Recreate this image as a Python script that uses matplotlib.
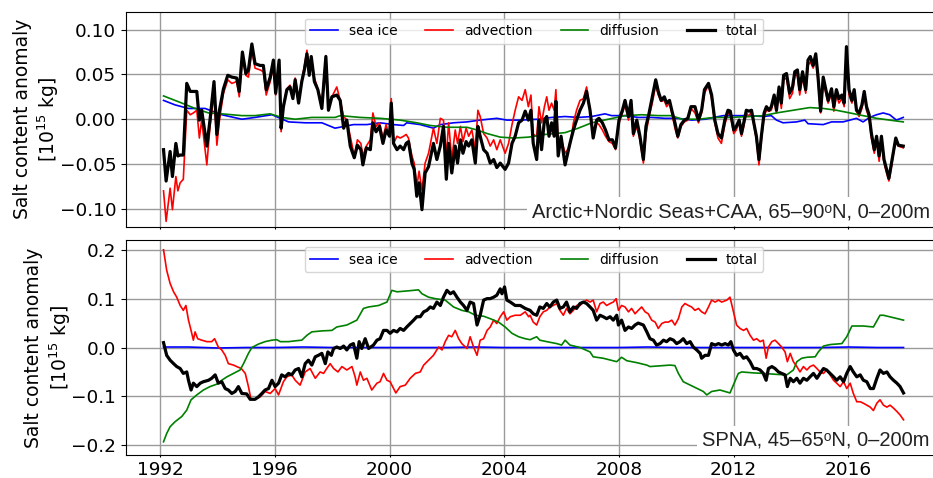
import matplotlib
matplotlib.use("Agg")
import matplotlib.pyplot as plt

# ---- upper panel: Arctic + Nordic Seas + CAA (values in 1e15 kg) ----
t_top = [
    1992.12, 1992.21, 1992.35, 1992.43, 1992.55, 1992.62, 1992.70, 1992.81, 1992.93, 1993.05,
    1993.16, 1993.28, 1993.37, 1993.45, 1993.63, 1993.74, 1993.88, 1993.98, 1994.07, 1994.21,
    1994.36, 1994.50, 1994.67, 1994.76, 1994.87, 1994.99, 1995.08, 1995.20, 1995.31, 1995.49,
    1995.60, 1995.70, 1995.84, 1995.95, 1996.03, 1996.15, 1996.22, 1996.30, 1996.42, 1996.53,
    1996.63, 1996.71, 1996.83, 1996.94, 1997.03, 1997.12, 1997.20, 1997.27, 1997.38, 1997.50,
    1997.64, 1997.78, 1997.87, 1997.99, 1998.16,
    1998.28, 1998.40, 1998.51, 1998.63, 1998.77, 1998.88, 1999.00, 1999.07, 1999.19, 1999.33,
    1999.42, 1999.53, 1999.65, 1999.77, 1999.88, 2000.00, 2000.06, 2000.14, 2000.26, 2000.37,
    2000.49, 2000.58, 2000.66, 2000.78, 2000.86, 2000.95, 2001.03, 2001.13, 2001.24, 2001.36,
    2001.44, 2001.53, 2001.65, 2001.77, 2001.88, 2001.98, 2002.06, 2002.17, 2002.29, 2002.37,
    2002.47, 2002.56, 2002.67, 2002.76, 2002.87, 2002.99, 2003.08, 2003.16, 2003.28, 2003.40,
    2003.51, 2003.63, 2003.74, 2003.86, 2004.03, 2004.15, 2004.27, 2004.38, 2004.50, 2004.62,
    2004.73,
    2004.84, 2004.93, 2005.01, 2005.13, 2005.21, 2005.30, 2005.40, 2005.48, 2005.56, 2005.65,
    2005.74, 2005.80, 2005.88, 2005.98, 2006.12, 2006.21, 2006.29, 2006.41, 2006.52, 2006.64,
    2006.76, 2006.87, 2006.99, 2007.10, 2007.22, 2007.30, 2007.42, 2007.53, 2007.65, 2007.77,
    2007.88, 2008.00, 2008.12, 2008.21, 2008.33, 2008.42, 2008.50, 2008.62, 2008.73, 2008.85,
    2008.94, 2009.05, 2009.16, 2009.28, 2009.37, 2009.47, 2009.58, 2009.66, 2009.76, 2009.84,
    2009.95, 2010.05, 2010.16, 2010.28, 2010.40, 2010.51, 2010.65, 2010.77, 2010.88, 2010.98,
    2011.12, 2011.23,
    2011.34, 2011.45, 2011.57, 2011.69, 2011.80, 2011.88, 2012.00, 2012.09, 2012.19, 2012.27,
    2012.35, 2012.44, 2012.53, 2012.62, 2012.70, 2012.79, 2012.88, 2012.97, 2013.06, 2013.14,
    2013.23, 2013.31, 2013.41, 2013.49, 2013.58, 2013.66, 2013.74, 2013.84, 2013.95, 2014.05,
    2014.13, 2014.22, 2014.30, 2014.40, 2014.51, 2014.59, 2014.67, 2014.77, 2014.86, 2014.94,
    2015.03, 2015.12, 2015.21, 2015.29, 2015.41, 2015.49, 2015.58, 2015.67, 2015.77, 2015.85,
    2015.93, 2016.02, 2016.12, 2016.20, 2016.28, 2016.37, 2016.47, 2016.55, 2016.63, 2016.72,
    2016.80, 2016.90, 2016.98, 2017.07, 2017.15, 2017.24, 2017.33, 2017.41, 2017.50, 2017.58,
    2017.65, 2017.74, 2017.91,
]
total_top = [
    -0.034, -0.069, -0.036, -0.064, -0.027, -0.041, -0.040, -0.040, 0.040, 0.031,
    0.031, 0.031, -0.001, 0.010, -0.030, -0.001, 0.042, -0.017, 0.010, 0.034,
    0.049, 0.047, 0.046, 0.031, 0.075, 0.051, 0.055, 0.084, 0.062, 0.060,
    0.060, 0.033, 0.047, 0.066, 0.029, 0.066, -0.010, 0.014, 0.033, 0.036,
    0.023, 0.044, 0.018, 0.042, 0.055, 0.073, 0.049, 0.070, 0.042, 0.033,
    0.012, 0.070, 0.010, 0.025, 0.027,
    0.021, -0.010, -0.001, -0.030, -0.043, -0.029, -0.034, -0.051, -0.032, -0.034,
    -0.004, -0.014, -0.008, -0.027, -0.012, -0.019, 0.018, -0.027, -0.034, -0.030,
    -0.034, -0.027, -0.025, -0.049, -0.056, -0.086, -0.071, -0.101, -0.060, -0.053,
    -0.041, -0.027, -0.045, -0.030, -0.008, -0.067, -0.027, -0.060, -0.030, -0.049,
    -0.023, -0.038, -0.025, -0.030, -0.023, -0.049, -0.008, -0.019, -0.034, -0.038,
    -0.049, -0.045, -0.054, -0.049, -0.056, -0.049, -0.027, -0.019, -0.004, -0.001,
    0.009,
    -0.001, 0.010, -0.027, -0.045, -0.001, -0.034, -0.001, 0.003, -0.019, -0.004,
    -0.019, 0.020, -0.041, -0.019, -0.051, -0.038, -0.027, -0.012, -0.001, 0.010,
    0.018, 0.031, 0.010, -0.021, -0.001, 0.001, -0.004, -0.012, -0.023, -0.023,
    -0.032, -0.001, 0.010, 0.021, 0.003, 0.021, -0.016, -0.001, -0.019, -0.045,
    -0.008, 0.007, 0.025, 0.044, 0.031, 0.021, 0.025, 0.018, 0.021, 0.010,
    -0.004, -0.019, -0.006, -0.001, 0.001, 0.014, 0.014, -0.001, 0.010, 0.033,
    0.040, 0.027,
    -0.001, -0.016, -0.021, -0.001, 0.010, 0.009, -0.012, -0.008, -0.001, -0.016,
    -0.004, 0.010, 0.009, 0.010, -0.004, -0.019, -0.045, -0.017, 0.007, 0.014,
    0.010, 0.014, 0.027, 0.010, 0.036, 0.018, 0.049, 0.051, 0.029, 0.036,
    0.053, 0.055, 0.033, 0.053, 0.033, 0.066, 0.070, 0.060, 0.073, 0.047,
    0.009, 0.047, 0.033, 0.021, 0.034, 0.014, 0.033, 0.023, 0.027, 0.018,
    0.081, 0.033, 0.021, 0.033, 0.010, 0.007, 0.016, 0.031, 0.014, 0.005,
    -0.016, -0.034, -0.019, -0.041, -0.019, -0.045, -0.056, -0.066, -0.049, -0.034,
    -0.021, -0.029, -0.030,
]
advection_top = [
    -0.080, -0.114, -0.077, -0.101, -0.064, -0.080, -0.071, -0.067, 0.010, 0.005,
    0.007, 0.010, -0.021, -0.001, -0.051, -0.008, 0.029, -0.029, -0.001, 0.029,
    0.044, 0.040, 0.042, 0.025, 0.070, 0.049, 0.047, 0.077, 0.057, 0.055,
    0.053, 0.027, 0.042, 0.059, 0.027, 0.060, -0.014, 0.016, 0.034, 0.038,
    0.025, 0.046, 0.021, 0.044, 0.059, 0.077, 0.053, 0.068, 0.046, 0.034,
    0.018, 0.071, 0.014, 0.025, 0.036,
    0.021, 0.003, -0.001, -0.019, -0.041, -0.023, -0.027, -0.041, -0.030, -0.023,
    0.007, -0.008, -0.004, -0.021, -0.006, -0.019, 0.023, -0.027, -0.019, -0.021,
    -0.019, -0.017, -0.021, -0.041, -0.049, -0.075, -0.058, -0.079, -0.049, -0.038,
    -0.025, -0.010, -0.027, 0.001, -0.001, -0.041, -0.004, -0.045, -0.012, -0.027,
    -0.008, -0.025, -0.010, -0.019, -0.012, -0.034, 0.010, 0.003, -0.016, -0.021,
    -0.030, -0.023, -0.034, -0.023, -0.038, -0.027, -0.006, 0.010, 0.025, 0.021,
    0.033,
    0.014, 0.027, -0.017, -0.019, 0.014, -0.004, 0.014, 0.025, 0.010, 0.018,
    0.010, 0.033, -0.030, -0.021, -0.038, -0.034, -0.030, -0.004, 0.010, 0.021,
    0.023, 0.036, 0.010, -0.019, -0.004, -0.006, -0.012, -0.019, -0.025, -0.027,
    -0.034, -0.004, 0.007, 0.016, -0.001, 0.014, -0.019, -0.008, -0.023, -0.049,
    -0.016, 0.003, 0.018, 0.038, 0.027, 0.020, 0.021, 0.014, 0.018, 0.007,
    -0.010, -0.021, -0.008, -0.003, -0.001, 0.012, 0.007, -0.004, 0.007, 0.029,
    0.038, 0.023,
    -0.004, -0.021, -0.027, -0.006, 0.007, 0.005, -0.016, -0.012, -0.003, -0.019,
    -0.008, 0.007, 0.003, 0.009, -0.006, -0.023, -0.051, -0.021, 0.003, 0.010,
    0.009, 0.010, 0.023, 0.007, 0.031, 0.012, 0.044, 0.046, 0.023, 0.029,
    0.049, 0.049, 0.027, 0.047, 0.029, 0.060, 0.064, 0.057, 0.070, 0.042,
    0.007, 0.042, 0.029, 0.018, 0.029, 0.009, 0.027, 0.018, 0.023, 0.014,
    0.077, 0.027, 0.018, 0.029, 0.009, 0.003, 0.012, 0.027, 0.010, 0.001,
    -0.021, -0.038, -0.023, -0.047, -0.023, -0.049, -0.060, -0.069, -0.053, -0.036,
    -0.025, -0.030, -0.032,
]
t_ice_top = [1992.12, 1992.52, 1992.99, 1993.57, 1994.15, 1994.85, 1995.31, 1995.90, 1996.48,
             1997.06, 1997.64, 1998.10, 1998.74, 1999.21, 1999.67, 2000.14, 2000.49, 2000.60,
             2001.07, 2001.53, 2001.77, 2002.23, 2002.70, 2003.16, 2003.74, 2004.09, 2004.56,
             2005.19, 2005.65, 2006.12, 2006.58, 2007.05, 2007.51, 2007.74, 2008.21, 2008.67,
             2009.14, 2009.60, 2010.07, 2010.53, 2011.00, 2011.63, 2012.09, 2012.56, 2013.02,
             2013.31, 2013.49, 2013.72, 2014.19, 2014.48, 2014.59, 2015.12, 2015.41, 2015.81,
             2016.05, 2016.28, 2016.51, 2016.74, 2016.98, 2017.21, 2017.44, 2017.67, 2017.91]
seaice_top = [0.021, 0.016, 0.012, 0.012, 0.005, 0.000, 0.002, 0.005, -0.003,
              -0.004, -0.004, -0.010, -0.006, -0.006, -0.004, -0.006, -0.007, -0.004,
              -0.006, -0.010, -0.006, -0.004, -0.003, -0.001, 0.001, -0.001, -0.001,
              0.000, 0.002, 0.003, 0.002, 0.003, 0.006, 0.004, 0.004, 0.002,
              0.002, 0.001, 0.001, -0.001, 0.000, 0.004, 0.004, 0.004, 0.003,
              0.004, -0.001, -0.004, -0.003, -0.001, -0.005, -0.006, -0.003, -0.003,
              -0.001, 0.001, -0.003, 0.002, 0.005, 0.007, 0.005, -0.001, 0.002]
t_diff_top = [1992.12, 1992.76, 1993.22, 1993.69, 1994.15, 1994.85, 1995.31, 1995.84, 1996.24,
              1996.71, 1997.29, 1998.10, 1998.28, 1998.98, 1999.67, 2000.37, 2000.95, 2001.42,
              2002.00, 2002.70, 2003.05, 2003.40, 2003.86, 2004.33, 2004.85, 2005.42, 2006.12,
              2006.58, 2007.05, 2007.63, 2008.21, 2008.79, 2009.37, 2009.84, 2010.19, 2010.77,
              2011.33, 2011.86, 2012.56, 2013.02, 2013.49, 2014.07, 2014.65, 2015.12, 2015.58,
              2016.05, 2016.51, 2016.98, 2017.44, 2017.91]
diffusion_top = [0.026, 0.018, 0.012, 0.007, 0.006, 0.004, 0.004, 0.006, 0.002,
                 0.000, 0.002, 0.002, 0.004, 0.002, 0.001, -0.001, -0.004, -0.007,
                 -0.009, -0.009, -0.012, -0.016, -0.020, -0.021, -0.020, -0.017, -0.015,
                 -0.010, -0.004, 0.000, 0.004, 0.005, 0.004, 0.004, 0.000, 0.000,
                 0.002, 0.002, 0.003, 0.004, 0.007, 0.010, 0.013, 0.012, 0.010,
                 0.007, 0.004, 0.001, -0.001, -0.003]

# ---- lower panel: SPNA ----
t_tot_bot = [
    1992.12, 1992.23, 1992.35, 1992.47, 1992.58, 1992.70, 1992.81, 1992.93, 1992.99, 1993.08,
    1993.16, 1993.28, 1993.40, 1993.51, 1993.69, 1993.80, 1993.92, 1994.03, 1994.15, 1994.27,
    1994.38, 1994.50, 1994.62, 1994.73, 1994.85, 1995.02, 1995.14, 1995.31, 1995.43, 1995.55,
    1995.66, 1995.78, 1995.90, 1996.01, 1996.13, 1996.24, 1996.36, 1996.48, 1996.59, 1996.71,
    1996.83, 1996.94, 1997.06, 1997.17, 1997.29, 1997.41, 1997.52, 1997.64, 1997.76, 1997.85,
    1997.97, 1998.05, 1998.16, 1998.28, 1998.40, 1998.51, 1998.63, 1998.74, 1998.86, 1998.94,
    1999.03, 1999.15, 1999.27, 1999.44, 1999.56, 1999.67, 1999.79, 1999.91, 2000.02, 2000.14,
    2000.26, 2000.37, 2000.49, 2000.60, 2000.72, 2000.84, 2000.95, 2001.07, 2001.19, 2001.30,
    2001.42, 2001.53, 2001.65, 2001.77, 2001.88, 2002.00, 2002.12, 2002.23, 2002.35, 2002.47,
    2002.58, 2002.70, 2002.81, 2002.93, 2003.05, 2003.16, 2003.28, 2003.40, 2003.51, 2003.63,
    2003.74, 2003.86, 2003.92, 2004.01, 2004.09, 2004.21, 2004.38, 2004.56, 2004.73,
    2004.90, 2005.01, 2005.13, 2005.24, 2005.36, 2005.48, 2005.59, 2005.71, 2005.83, 2005.94,
    2006.06, 2006.17, 2006.29, 2006.41, 2006.52, 2006.64, 2006.76, 2006.87, 2006.99, 2007.10,
    2007.22, 2007.34, 2007.45, 2007.57, 2007.69, 2007.80, 2007.92, 2007.98, 2008.09, 2008.21,
    2008.33, 2008.44, 2008.56, 2008.67, 2008.85, 2008.97, 2009.08, 2009.20, 2009.31, 2009.43,
    2009.55, 2009.66, 2009.78, 2009.90, 2010.01, 2010.13, 2010.24, 2010.36, 2010.48, 2010.59,
    2010.71, 2010.83, 2010.88, 2011.00, 2011.12, 2011.23, 2011.35, 2011.47, 2011.58, 2011.70,
    2011.81, 2011.90, 2011.99, 2012.10, 2012.22, 2012.34, 2012.45, 2012.57, 2012.69, 2012.80,
    2012.92, 2013.03, 2013.13, 2013.21, 2013.33, 2013.44, 2013.56, 2013.67, 2013.79, 2013.87,
    2013.97, 2014.08, 2014.20, 2014.31, 2014.43, 2014.55, 2014.66, 2014.78, 2014.90, 2015.01,
    2015.13, 2015.24, 2015.36, 2015.48, 2015.59, 2015.71, 2015.83, 2015.94, 2016.06, 2016.17,
    2016.29, 2016.41, 2016.52, 2016.64, 2016.76, 2016.87, 2016.99, 2017.10, 2017.22, 2017.34,
    2017.45, 2017.57, 2017.69, 2017.80, 2017.92,
]
total_bot = [
    0.010, -0.016, -0.026, -0.033, -0.039, -0.043, -0.053, -0.050, -0.067, -0.087,
    -0.073, -0.080, -0.073, -0.070, -0.067, -0.063, -0.056, -0.073, -0.070, -0.084,
    -0.087, -0.094, -0.090, -0.080, -0.094, -0.095, -0.106, -0.106, -0.101, -0.094,
    -0.087, -0.084, -0.067, -0.080, -0.073, -0.056, -0.060, -0.053, -0.056, -0.046,
    -0.043, -0.060, -0.033, -0.026, -0.036, -0.019, -0.016, -0.012, -0.033, -0.009,
    -0.016, -0.002, 0.001, -0.002, 0.003, -0.005, 0.005, 0.008, -0.022, 0.012,
    -0.002, 0.018, -0.002, 0.005, 0.015, 0.018, 0.035, 0.035, 0.029, 0.035,
    0.032, 0.039, 0.035, 0.042, 0.049, 0.056, 0.063, 0.063, 0.073, 0.076,
    0.083, 0.080, 0.093, 0.086, 0.103, 0.117, 0.110, 0.114, 0.103, 0.093,
    0.086, 0.076, 0.093, 0.090, 0.046, 0.066, 0.097, 0.100, 0.100, 0.103,
    0.107, 0.120, 0.110, 0.124, 0.097, 0.093, 0.086, 0.086, 0.080,
    0.076, 0.069, 0.066, 0.083, 0.080, 0.090, 0.083, 0.093, 0.097, 0.080,
    0.083, 0.093, 0.073, 0.083, 0.080, 0.090, 0.093, 0.090, 0.083, 0.076,
    0.056, 0.066, 0.063, 0.059, 0.063, 0.056, 0.066, 0.046, 0.056, 0.035,
    0.042, 0.039, 0.046, 0.050, 0.046, 0.032, 0.018, 0.015, 0.005, 0.008,
    0.015, 0.012, 0.018, 0.015, 0.008, 0.012, 0.018, 0.008, 0.012, 0.001,
    -0.005, -0.012, -0.022, -0.016, -0.016, 0.008, 0.005, 0.008, 0.005, 0.008,
    0.005, 0.012, -0.005, -0.016, -0.012, -0.022, -0.019, -0.029, -0.043, -0.043,
    -0.046, -0.053, -0.067, -0.043, -0.039, -0.043, -0.050, -0.053, -0.056, -0.080,
    -0.063, -0.070, -0.063, -0.073, -0.063, -0.067, -0.060, -0.053, -0.063, -0.053,
    -0.043, -0.046, -0.053, -0.060, -0.067, -0.060, -0.070, -0.053, -0.039, -0.050,
    -0.060, -0.056, -0.067, -0.070, -0.084, -0.084, -0.063, -0.046, -0.053, -0.050,
    -0.060, -0.067, -0.073, -0.080, -0.093,
]
t_adv_bot = [
    1992.12, 1992.23, 1992.35, 1992.47, 1992.58, 1992.70, 1992.81, 1992.90, 1992.99, 1993.08,
    1993.16, 1993.22, 1993.31, 1993.45, 1993.63, 1993.80, 1993.90, 1994.03, 1994.15, 1994.27,
    1994.38, 1994.56, 1994.67, 1994.83, 1994.97, 1995.08, 1995.17, 1995.31, 1995.49, 1995.66,
    1995.84, 1996.01, 1996.13, 1996.30, 1996.42, 1996.59, 1996.71, 1996.88, 1997.06, 1997.23,
    1997.41, 1997.58, 1997.70, 1997.81, 1997.93, 1998.05, 1998.20, 1998.34, 1998.51, 1998.69,
    1998.80, 1998.86, 1998.98, 1999.09, 1999.21, 1999.38, 1999.56, 1999.67, 1999.79, 1999.91,
    2000.02, 2000.14, 2000.22, 2000.37, 2000.55, 2000.72, 2000.90, 2001.07, 2001.19, 2001.36,
    2001.53, 2001.71, 2001.83, 2001.94, 2002.06, 2002.17, 2002.29, 2002.41, 2002.52, 2002.70,
    2002.81, 2002.93, 2003.05, 2003.16, 2003.28, 2003.40, 2003.51, 2003.63, 2003.74, 2003.86,
    2003.98, 2004.09, 2004.21, 2004.38, 2004.56, 2004.73, 2004.85,
    2004.90, 2005.01, 2005.13, 2005.24, 2005.36, 2005.48, 2005.59, 2005.71, 2005.83, 2005.94,
    2006.06, 2006.17, 2006.29, 2006.41, 2006.52, 2006.64, 2006.76, 2006.87, 2006.99, 2007.10,
    2007.22, 2007.34, 2007.45, 2007.57, 2007.69, 2007.80, 2007.90, 2007.98, 2008.09, 2008.21,
    2008.33, 2008.44, 2008.56, 2008.67, 2008.79, 2008.91, 2009.02, 2009.14, 2009.26, 2009.37,
    2009.49, 2009.60, 2009.72, 2009.84, 2009.95, 2010.07, 2010.19, 2010.30, 2010.42, 2010.53,
    2010.65, 2010.77, 2010.88, 2011.00, 2011.12, 2011.23, 2011.35, 2011.47, 2011.58, 2011.76,
    2011.87, 2011.99, 2012.10, 2012.22, 2012.34, 2012.45, 2012.57, 2012.69, 2012.80, 2012.92,
    2013.03, 2013.13, 2013.21, 2013.33, 2013.44, 2013.56, 2013.67, 2013.79, 2013.87, 2013.97,
    2014.08, 2014.20, 2014.31, 2014.43, 2014.55, 2014.66, 2014.78, 2014.90, 2015.01, 2015.13,
    2015.24, 2015.36, 2015.48, 2015.59, 2015.71, 2015.83, 2015.94, 2016.06, 2016.17, 2016.29,
    2016.41, 2016.52, 2016.64, 2016.76, 2016.87, 2016.99, 2017.10, 2017.22, 2017.34, 2017.45,
    2017.57, 2017.69, 2017.80, 2017.92,
]
advection_bot = [
    0.200, 0.158, 0.131, 0.114, 0.103, 0.086, 0.076, 0.086, 0.056, 0.035,
    0.015, 0.032, 0.018, 0.015, 0.012, 0.012, 0.018, 0.001, -0.005, -0.016,
    -0.033, -0.036, -0.039, -0.043, -0.053, -0.080, -0.106, -0.106, -0.101, -0.090,
    -0.094, -0.084, -0.097, -0.070, -0.060, -0.056, -0.067, -0.077, -0.050, -0.043,
    -0.063, -0.050, -0.053, -0.043, -0.033, -0.043, -0.050, -0.039, -0.046, -0.039,
    -0.060, -0.077, -0.050, -0.067, -0.063, -0.087, -0.073, -0.070, -0.053, -0.067,
    -0.070, -0.084, -0.093, -0.080, -0.077, -0.063, -0.053, -0.050, -0.036, -0.026,
    -0.016, 0.001, -0.005, 0.012, 0.025, 0.022, 0.035, 0.018, 0.008, -0.002,
    0.022, 0.001, -0.016, 0.015, 0.018, 0.035, 0.042, 0.056, 0.049, 0.063,
    0.073, 0.056, 0.063, 0.066, 0.066, 0.073, 0.063,
    0.066, 0.052, 0.046, 0.063, 0.073, 0.076, 0.083, 0.086, 0.090, 0.076,
    0.066, 0.080, 0.069, 0.076, 0.086, 0.086, 0.093, 0.097, 0.093, 0.097,
    0.073, 0.090, 0.093, 0.086, 0.090, 0.093, 0.100, 0.076, 0.086, 0.083,
    0.073, 0.080, 0.069, 0.076, 0.083, 0.073, 0.069, 0.056, 0.052, 0.039,
    0.049, 0.052, 0.052, 0.056, 0.046, 0.059, 0.083, 0.090, 0.086, 0.083,
    0.076, 0.080, 0.073, 0.069, 0.083, 0.097, 0.093, 0.097, 0.093, 0.097,
    0.103, 0.073, 0.046, 0.039, 0.035, 0.039, 0.025, 0.015, 0.018, 0.012,
    0.015, -0.022, 0.001, 0.012, 0.015, 0.008, 0.001, -0.009, -0.029, -0.012,
    -0.029, -0.039, -0.050, -0.039, -0.046, -0.039, -0.036, -0.043, -0.050, -0.053,
    -0.046, -0.056, -0.067, -0.073, -0.080, -0.070, -0.084, -0.073, -0.094, -0.111,
    -0.111, -0.114, -0.118, -0.122, -0.129, -0.114, -0.107, -0.118, -0.122, -0.118,
    -0.124, -0.131, -0.138, -0.148,
]
t_diff_bot = [
    1992.12, 1992.23, 1992.35, 1992.52, 1992.76, 1992.93, 1993.08, 1993.28, 1993.51, 1993.74,
    1993.98, 1994.15, 1994.33, 1994.56, 1994.79, 1994.91, 1995.08, 1995.20, 1995.43, 1995.66,
    1995.90, 1996.07, 1996.19, 1996.48, 1996.77, 1996.94, 1997.12, 1997.29, 1997.64, 1997.99,
    1998.16, 1998.51, 1998.86, 1999.09, 1999.27, 1999.62, 1999.91, 2000.08, 2000.26, 2000.66,
    2001.01, 2001.13, 2001.36, 2001.59, 2001.94, 2002.23, 2002.52, 2002.76, 2002.99, 2003.28,
    2003.51, 2003.80, 2004.03, 2004.27, 2004.50, 2004.73,
    2004.90, 2005.13, 2005.24, 2005.48, 2005.83, 2006.00, 2006.12, 2006.29, 2006.64, 2006.99,
    2007.10, 2007.45, 2007.92, 2008.09, 2008.27, 2008.62, 2008.97, 2009.08, 2009.31, 2009.78,
    2009.95, 2010.07, 2010.24, 2010.59, 2010.94, 2011.06, 2011.23, 2011.52, 2011.87, 2012.16,
    2012.28, 2012.69, 2013.03, 2013.50, 2013.85, 2014.08, 2014.20, 2014.37, 2014.55, 2014.84,
    2014.95, 2015.13, 2015.36, 2015.77, 2015.94, 2016.12, 2016.52, 2016.87, 2017.10, 2017.22,
    2017.57, 2017.92,
]
diffusion_bot = [
    -0.193, -0.176, -0.162, -0.152, -0.141, -0.128, -0.107, -0.097, -0.087, -0.080,
    -0.075, -0.067, -0.060, -0.053, -0.046, -0.033, -0.012, 0.000, 0.007, 0.012,
    0.015, 0.016, 0.012, 0.012, 0.014, 0.015, 0.025, 0.032, 0.034, 0.035,
    0.042, 0.046, 0.056, 0.080, 0.083, 0.086, 0.093, 0.117, 0.114, 0.116,
    0.118, 0.110, 0.103, 0.100, 0.097, 0.083, 0.076, 0.073, 0.066, 0.064,
    0.059, 0.052, 0.042, 0.029, 0.022, 0.018,
    0.016, 0.022, 0.015, 0.012, 0.008, 0.005, 0.015, 0.005, 0.000, -0.009,
    -0.019, -0.022, -0.029, -0.020, -0.027, -0.031, -0.036, -0.039, -0.038, -0.036,
    -0.037, -0.053, -0.070, -0.080, -0.090, -0.097, -0.090, -0.087, -0.093, -0.053,
    -0.050, -0.052, -0.053, -0.055, -0.056, -0.046, -0.029, -0.022, -0.020, -0.019,
    -0.009, 0.003, 0.006, 0.008, 0.022, 0.044, 0.044, 0.042, 0.066, 0.066,
    0.061, 0.056,
]
t_ice_bot = [1992.12, 1993.0, 1994.0, 1995.0, 1996.0, 1997.0, 1998.0, 1999.0, 2000.0, 2001.0,
             2002.0, 2003.0, 2004.0, 2005.0, 2006.0, 2007.0, 2008.0, 2009.0, 2010.0, 2011.0,
             2012.0, 2013.0, 2014.0, 2015.0, 2016.0, 2017.0, 2017.92]
seaice_bot = [0.001, 0.001, -0.001, 0.000, 0.000, 0.001, 0.000, 0.000, 0.000, 0.000,
              0.000, 0.001, 0.000, 0.000, 0.000, 0.000, 0.000, 0.001, 0.000, 0.000,
              0.000, 0.000, 0.000, 0.000, 0.001, 0.000, 0.000]

year_ticks = [1992, 1996, 2000, 2004, 2008, 2012, 2016]
top_yticks = [-0.10, -0.05, 0.0, 0.05, 0.10]
bot_yticks = [-0.2, -0.1, 0.0, 0.1, 0.2]
ylabel = "Salt content anomaly\n[10$^{15}$ kg]"
region_top = "Arctic+Nordic Seas+CAA, 65\u201390\u1d52N, 0\u2013200m"
region_bot = "SPNA, 45\u201365\u1d52N, 0\u2013200m"

fig = plt.figure(figsize=(9.33, 4.78), dpi=100)
ax1 = fig.add_axes([0.135, 0.5257, 0.8746, 0.4498])
ax2 = fig.add_axes([0.135, 0.0481, 0.8746, 0.4498], sharex=ax1)

panels = [
    (ax1, (t_ice_top, seaice_top), (t_top, advection_top), (t_diff_top, diffusion_top),
     (t_top, total_top), top_yticks, (-0.12, 0.12), region_top),
    (ax2, (t_ice_bot, seaice_bot), (t_adv_bot, advection_bot), (t_diff_bot, diffusion_bot),
     (t_tot_bot, total_bot), bot_yticks, (-0.22, 0.22), region_bot),
]

for ax, ice, adv, dif, tot, yt, ylim, region in panels:
    ax.plot(*ice, color="blue", lw=1.2, label="sea ice")
    ax.plot(*adv, color="red", lw=1.2, label="advection")
    ax.plot(*dif, color="green", lw=1.2, label="diffusion")
    ax.plot(*tot, color="black", lw=2.3, label="total")
    ax.set_ylim(*ylim)
    ax.set_yticks(yt)
    ax.grid(True, color="#9a9a9a", lw=1.0)
    ax.set_axisbelow(True)
    ax.tick_params(axis="y", labelsize=13.3)
    ax.tick_params(axis="x", labelsize=13.3, length=1.5, pad=2.5)
    ax.set_ylabel(ylabel, fontsize=13.5, labelpad=-1)
    ax.legend(loc="upper center", ncol=4, fontsize=10)
    ax.text(0.9853, 0.025, region, transform=ax.transAxes, ha="right", va="bottom",
            fontsize=14.5, family=["Liberation Sans", "DejaVu Sans"], color="#222222",
            bbox=dict(boxstyle="square,pad=0.25", facecolor="white", edgecolor="none"))

ax1.set_xlim(1990.81, 2019.26)
ax1.set_xticks(year_ticks)
ax1.tick_params(labelbottom=False)

fig.savefig("out.png", dpi=100)
